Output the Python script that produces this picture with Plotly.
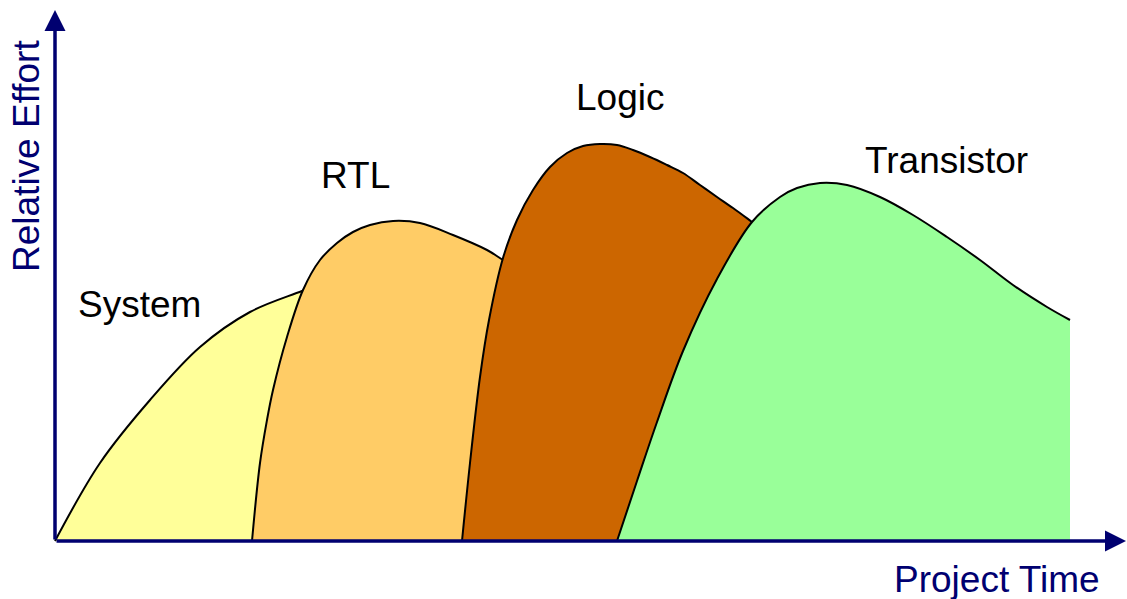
import plotly.graph_objects as go

# Data: time (x) and relative effort (y) for each design phase
system_t = [0, 45, 95, 145, 195, 247, 270]
system_e = [0, 78, 141, 194, 229, 250, 259]

rtl_t = [197, 205, 212, 218, 232, 248, 265, 282, 298, 315, 338, 365, 398, 432, 448, 475]
rtl_e = [0, 78, 121, 151, 204, 251, 281, 298, 309, 316, 320, 318, 306, 291, 281, 265]

logic_t = [407, 415, 425, 434, 448, 462, 478, 495, 512, 528, 545, 562, 578, 595, 612, 628, 645, 662, 678, 697, 725]
logic_e = [0, 78, 164, 221, 283, 321, 351, 374, 388, 395, 397, 396, 391, 384, 376, 368, 356, 344, 333, 319, 298]

trans_t = [562, 582, 602, 628, 662, 697, 725, 742, 765, 792, 825, 858, 892, 925, 958, 992, 1015]
trans_e = [0, 60, 119, 190, 262, 319, 344, 353, 358, 356, 344, 326, 304, 281, 256, 234, 221]

phases = ["System", "RTL", "Logic", "Transistor"]
colors = ["#FFFF99", "#FFCC66", "#CC6600", "#99FF99"]
series = [(system_t, system_e), (rtl_t, rtl_e), (logic_t, logic_e), (trans_t, trans_e)]

label_pos = [(84, 237), (300, 366), (565, 444), (891, 381)]

NAVY = "#000070"
FONT = "Liberation Sans, Arial, sans-serif"
FS = 37

fig = go.Figure()
for name, col, (t, e) in zip(phases, colors, series):
    fig.add_trace(go.Scatter(
        x=t, y=e, mode="lines", name=name,
        line=dict(color="black", width=2, shape="spline", smoothing=1),
        fill="tozeroy", fillcolor=col, hoverinfo="skip", showlegend=False,
    ))

annotations = []
for name, (lx, ly) in zip(phases, label_pos):
    annotations.append(dict(x=lx, y=ly, xref="x", yref="y", text=name, showarrow=False,
                            font=dict(family=FONT, size=FS, color="black")))

# axis arrows
annotations.append(dict(x=0, y=531, ax=0, ay=0, xref="x", yref="y", axref="x", ayref="y",
                        text="", showarrow=True, arrowhead=2, arrowsize=1.2, arrowwidth=3.5,
                        arrowcolor=NAVY, standoff=0))
annotations.append(dict(x=1071, y=0, ax=0, ay=0, xref="x", yref="y", axref="x", ayref="y",
                        text="", showarrow=True, arrowhead=2, arrowsize=1.2, arrowwidth=3.5,
                        arrowcolor=NAVY, standoff=0))

annotations.append(dict(x=-29, y=385, xref="x", yref="y", text="Relative Effort", textangle=-90,
                        showarrow=False, font=dict(family=FONT, size=FS, color=NAVY)))
annotations.append(dict(x=942, y=-38, xref="x", yref="y", text="Project Time",
                        showarrow=False, font=dict(family=FONT, size=FS, color=NAVY)))

fig.update_layout(
    width=1127, height=599,
    margin=dict(l=0, r=0, t=0, b=0),
    paper_bgcolor="white", plot_bgcolor="white",
    xaxis=dict(range=[-55, 1072], visible=False, fixedrange=True),
    yaxis=dict(range=[-58, 541], visible=False, fixedrange=True),
    annotations=annotations,
)

fig.write_html("out.html", config={"displayModeBar": False},
               post_script="document.body.style.margin='0';document.body.style.overflow='hidden';")
